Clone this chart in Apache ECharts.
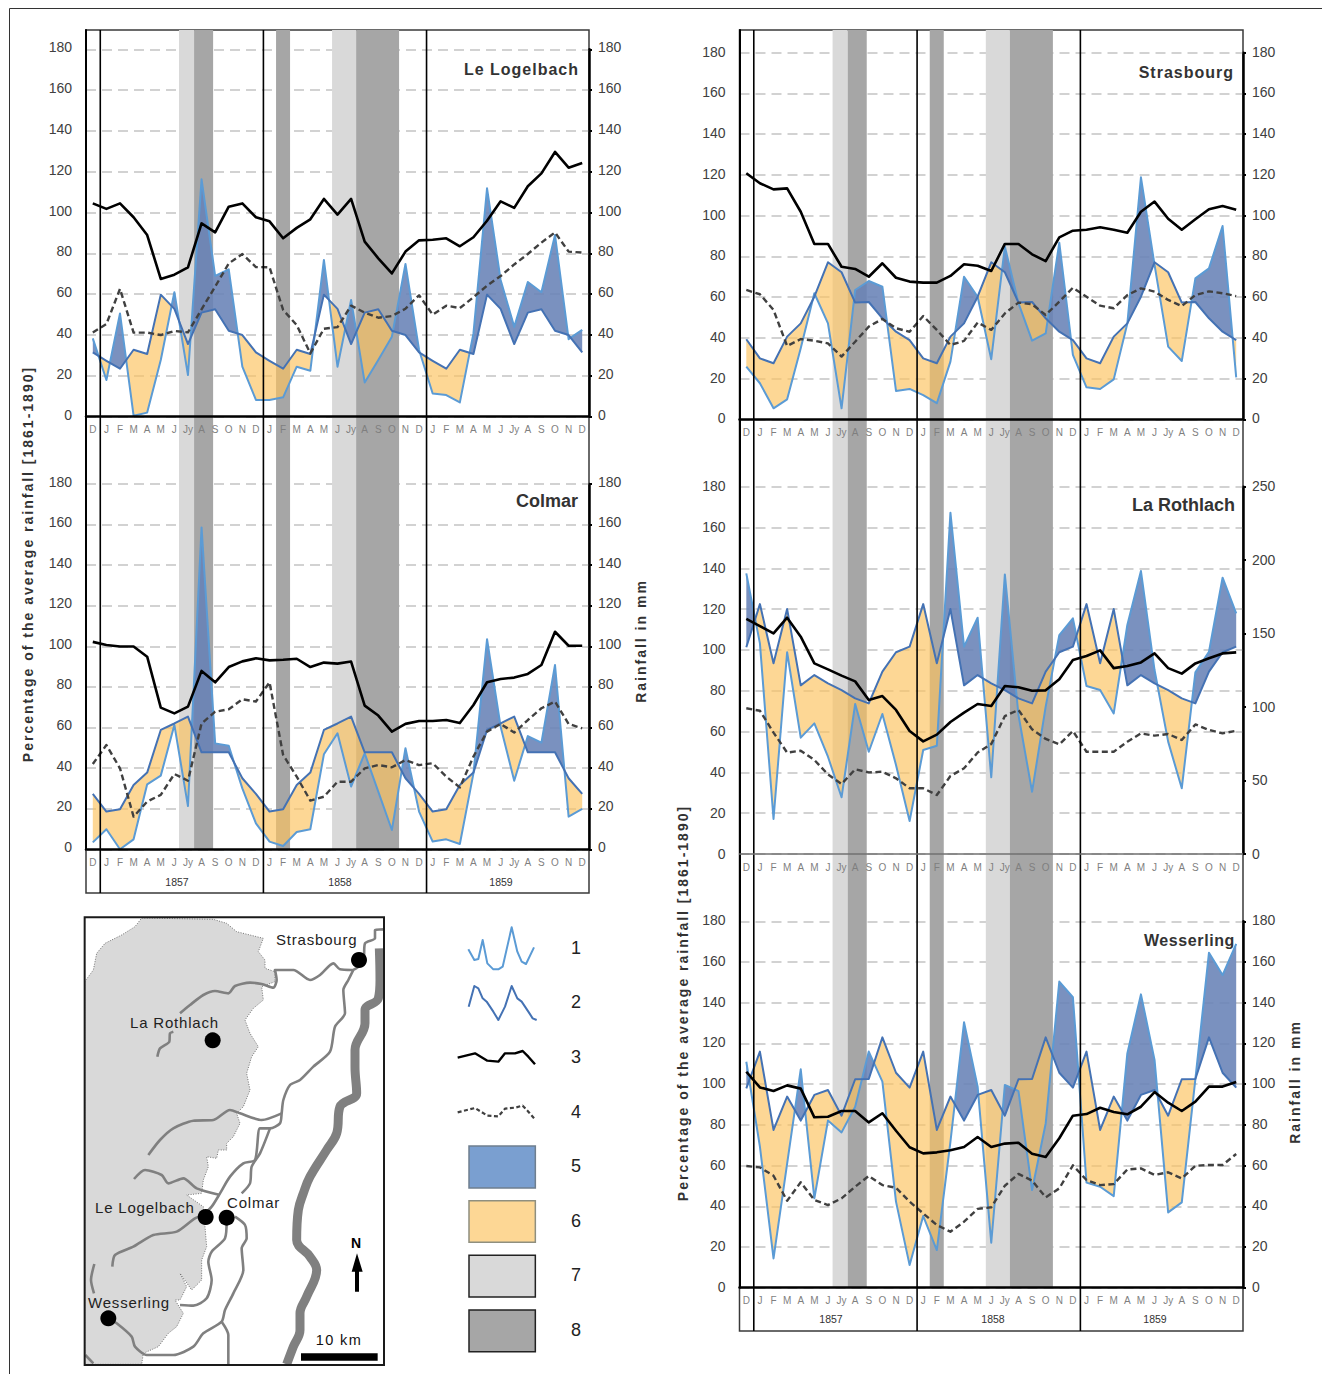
<!DOCTYPE html>
<html>
<head>
<meta charset="utf-8">
<style>html,body{margin:0;padding:0;background:#fff}#c{width:1322px;height:1374px}</style>
<script src="https://cdn.jsdelivr.net/npm/echarts@6/dist/echarts.min.js"></script>
</head>
<body>
<div id="c"></div>
<script>
const months = ['D','J','F','M','A','M','J','Jy','A','S','O','N','D','J','F','M','A','M','J','Jy','A','S','O','N','D','J','F','M','A','M','J','Jy','A','S','O','N','D'];
const years = ['1857','1858','1859'];

const logelbachMonthly = [38.4,18,50.6,0.5,2,27.8,61,20.4,116.3,69,72.2,24.5,8.2,8.2,9.5,24.5,22.5,76.8,24.5,57.2,16.8,27.8,39.2,74.8,32.7,11.4,10.6,7,40.8,111.9,67,44,66,61,89,38,42.5];
const logelbachMean = [31.5,27.4,23.5,32.8,30.7,59.8,52.8,35.6,51,52.6,42.1,40,31.5,27.4,23.5,32.8,30.7,59.8,52.8,35.6,51,52.6,42.1,40,31.5,27.4,23.5,32.8,30.7,59.8,52.8,35.6,51,52.6,42.1,40,31.5];
const logelbachPct = [104.5,101.8,104.5,97.7,89,67.5,69.6,73.2,94.7,90.3,102.9,104.5,97.7,95.7,87.4,92.5,96.7,106.7,99,106.7,85.8,77.6,70.2,80.9,86.4,86.7,87.4,83.5,87.9,96,105.5,102.3,112.9,119.2,129.7,122,124.3];
const logelbachRun = [41.3,45.4,62.6,41.2,41.2,40,42,41.3,52.6,63.7,75.1,79.7,73.3,73.2,52.3,44.9,31,43.1,43.9,54.4,51,48.5,49.3,52.9,59.5,50,54.4,53.2,58.5,64.2,68.9,74.6,79.7,85.3,90.3,80.9,80.4];

const colmarMonthly = [3.4,9.9,0,4.9,32,36.3,61.3,21.3,158.6,52.2,51,30,12.8,3.8,1.6,8.5,9.9,46.8,57.2,30.9,47.3,28.4,9.5,49.8,18.6,3.8,4.9,2.6,37.4,103.5,60.4,33.8,55.8,52.6,90.8,16.1,19.9];
const colmarMean = [27.3,18.6,19.7,31.7,37.8,58.8,62,65.4,47.8,47.8,47.8,35,27.3,18.6,19.7,31.7,37.8,58.8,62,65.4,47.8,47.8,47.8,35,27.3,18.6,19.7,31.7,37.8,58.8,62,65.4,47.8,47.8,47.8,35,27.3];
const colmarPct = [102.2,100.7,99.9,99.9,94.9,69.8,67,70.3,87.9,82.3,89.8,92.6,94.1,93.1,93.4,93.9,89.8,92,91.5,92.5,70.8,65.9,58,61.8,63.2,63.2,63.7,62.2,71.1,82.3,83.9,84.6,86.4,90.8,107.2,100.3,100.3];
const colmarRun = [42,51.4,39.9,16.1,23.5,26.8,37.1,33.8,62,67.8,69,73.9,72.8,82.3,46.5,35.8,24,25.9,33.3,33.3,39.9,41.5,40.4,44,41.5,42.4,35.8,30.5,45.7,58,61.8,57.5,63.7,69.5,72.8,61.8,59.6];

const strasbourgMonthly = [25.9,17.7,5.4,9.8,34.9,61.9,47.1,5.4,63.5,67.9,65.1,13.9,14.9,11.9,7.9,28.3,70,60.2,29.5,84.8,57,38.6,42.2,86.7,31.6,15.7,14.9,19.6,47,118.8,75.8,35.7,28.6,69.2,74.1,94.9,20.6];
const strasbourgMean = [39.3,29.9,27.5,40.6,47.1,60.2,77.1,72.2,57.3,57.6,49.6,43,38.9,29.9,27.5,40.6,47.1,60.2,77.1,72.2,57.3,57.6,49.6,43,38.9,29.9,27.5,40.6,47.1,60.2,77.1,72.2,57.3,57.6,49.6,43,38.9];
const strasbourgPct = [120.8,115.9,112.9,113.4,101.9,86.1,86.1,74.9,73.8,70,76.6,69.5,67.6,67.1,67.1,70.4,76.1,75.4,72.8,86.1,86.1,81,77.7,89.3,92.6,93.1,94.3,93.1,91.6,101.9,106.9,98.5,93.1,98.2,103.1,104.7,102.9];
const strasbourgRun = [63.5,61.4,53.7,36,39.4,38.6,37.3,30.8,38.1,45.5,49.3,44.7,43,50.7,43.9,36.5,38.5,47.5,43.9,52,57.3,56.5,51.2,57.8,64.6,60.2,55.8,54.5,61,64.3,62.7,58.6,55.6,61,62.8,61.9,60.5];

const rothlachMonthly = [191,143.4,23.8,137.3,79.2,88.9,66.2,38.6,102.1,69.6,95.3,60.6,22.5,70.8,73.7,232.3,141.1,160.8,52.2,190.3,94.6,42.4,100.3,149,160.4,114.3,111.6,95.7,155.9,192.6,125.2,76.5,44.7,123.6,137.7,188.1,163.8];
const rothlachMean = [140.7,170.1,129.8,166.7,114.8,121.8,116.2,111.6,105.9,102.5,124.1,137.3,141.1,170.1,129.8,166.7,114.8,121.8,116.2,111.6,105.9,102.5,124.1,137.3,141.1,170.1,129.8,166.7,114.8,121.8,116.2,111.6,105.9,102.5,124.1,137.3,141.1];
const rothlachPct = [115.2,111.7,108.1,115.8,106.5,93.4,90.5,87.4,84.6,75.5,77.4,70.6,60.3,55.2,58.5,64.7,69.3,73.5,72.5,82.3,81.7,80,80.2,85.6,95.1,97,99.8,91.1,92.1,93.9,98.3,91.1,88.4,93.4,95.9,98.3,98.8];
const rothlachRun = [71.4,70.2,59.5,49.7,50.6,46.1,39,34.3,41.5,40,40.3,37.1,32.2,32.2,28.9,38.2,42,49.7,53.9,67.6,70.6,61.1,56.4,53.7,60.3,50.1,50.1,50.1,55,59.1,58,58.8,55.9,63.5,60.8,59.1,60.4];

const wesserlingMonthly = [111,69.3,14.4,61,107.3,43.9,82.1,76.3,88.9,116,101.2,42.3,11.1,35.2,18.5,71.7,130.4,98.8,22.1,99.6,96.6,48,80.7,150.4,142.7,51.6,49.6,45,115.1,144.1,111.9,37,41.9,102.5,164.6,153.6,168.9];
const wesserlingMean = [97.9,116,77.5,93.9,82.1,94.7,97.1,84.5,102.4,102.5,123,105.6,98.3,116,77.5,93.9,82.1,94.7,97.1,84.5,102.4,102.5,123,105.6,98.3,116,77.5,93.9,82.1,94.7,97.1,84.5,102.4,102.5,123,105.6,98.3];
const wesserlingPct = [106.1,98.4,96.6,99.4,97.8,83.7,84,86.8,86.8,81.2,85.7,77.1,69,66,66.5,67.5,69.1,74,69.1,70.8,71.2,65.8,64.2,73.4,84.5,85.3,88.4,86.3,85.2,88.9,96.1,90.9,86.8,91.4,98.8,98.8,101.1];
const wesserlingRun = [59.8,59.1,55,42.7,51.8,43.1,40.6,43.9,49.6,54.9,50.4,49.1,42.3,36.5,30.8,27.5,32.4,38.7,39.5,50.1,55.9,52.6,44.4,48.8,60.1,52.9,50.4,50.9,58.1,58.6,55.4,56.7,53.7,59.9,60.3,60.3,65.7];

const lightBands = [[6.34,7.45],[17.6,19.37]];
const darkBands = [[7.45,8.85],[13.48,14.51],[19.37,22.53]];
const yearBreaks = [0.55,12.55,24.55];

/* ---- map, in units of the map canvas ---- */
const vosges = [[14,215],[40,180],[50,130],[75,100],[125,75],[165,50],[185,24],[400,28],[440,40],[470,65],[550,85],[535,125],[555,150],[555,175],[585,185],[585,215],[545,230],[550,270],[520,295],[495,330],[510,370],[535,410],[515,440],[500,490],[510,540],[490,590],[470,610],[480,640],[460,680],[440,700],[440,720],[415,720],[410,745],[380,740],[385,770],[370,810],[365,850],[320,855],[370,890],[375,950],[380,1010],[365,1050],[365,1110],[335,1140],[300,1090],[320,1130],[300,1170],[285,1170],[310,1210],[290,1250],[265,1270],[235,1310],[190,1330],[185,1363],[14,1363]];
const rivers = [
 [[300,310],[330,285],[370,255],[405,243],[445,250],[465,228],[510,218],[545,222],[580,233],[590,210],[585,180],[640,180],[690,210],[720,195],[760,160],[780,178],[815,180],[850,155],[855,100],[885,85],[885,60],[910,58]],
 [[820,180],[805,210],[790,240],[795,310],[765,350],[750,425],[700,470],[660,510],[630,525],[610,570],[605,610],[600,640],[570,655],[540,655],[525,750],[490,760],[450,800],[420,850],[395,890],[365,920]],
 [[570,655],[540,730],[515,770],[510,820],[485,850]],
 [[605,610],[545,630],[480,610],[450,600],[400,630],[340,632],[280,655],[240,690],[205,735]],
 [[162,807],[195,780],[245,795],[265,820],[310,805],[350,835],[420,855]],
 [[97,1070],[105,1035],[160,1010],[220,975],[290,965],[345,925],[375,915]],
 [[440,930],[435,985],[395,1025],[385,1055],[395,1110],[380,1165],[340,1187],[300,1185]],
 [[465,920],[495,945],[500,985],[485,1015],[490,1080],[460,1150],[435,1200],[425,1235],[370,1270],[340,1310],[280,1335],[200,1335],[165,1310],[155,1280],[110,1240],[85,1225]],
 [[425,1235],[445,1275],[445,1363]],
 [[43,1062],[33,1110],[42,1150]],
 [[16,1335],[40,1360]],
 [[232,440],[240,415],[268,395],[270,370],[280,365]]
];
const rhine = [[620,1363],[640,1310],[660,1260],[660,1210],[680,1160],[710,1080],[690,1040],[650,990],[655,900],[670,850],[690,800],[740,720],[770,670],[780,590],[830,550],[825,470],[825,420],[855,340],[855,300],[895,265],[900,210],[898,115]];
const towns = [[837,150],[398,391],[377,921],[440,923],[85,1225]];
const northArrow = [[825,1145],[837,1145],[837,1085],[848,1085],[831,1030],[815,1085],[825,1085]];
const scaleBar = [[663,1330],[893,1330],[893,1352],[663,1352]];
const mapFrame = [[14,22],[912,22],[912,1365],[14,1365]];
const key1 = [[1165,118],[1183,150],[1195,147],[1208,90],[1222,160],[1240,178],[1255,178],[1268,170],[1295,52],[1312,125],[1325,155],[1338,162],[1362,112]];
const key2 = [[1166,290],[1183,228],[1195,235],[1208,265],[1220,275],[1240,305],[1255,330],[1275,290],[1295,228],[1312,265],[1325,275],[1345,305],[1358,325],[1370,330]];
const key3 = [[1133,443],[1185,430],[1222,452],[1255,455],[1275,430],[1305,430],[1328,423],[1345,440],[1365,463]];
const key4 = [[1133,607],[1185,594],[1222,617],[1255,619],[1275,596],[1305,593],[1328,587],[1345,605],[1365,628]];
const keyBoxes = [
 {pts:[[1167,708],[1366,708],[1366,834],[1167,834]],fill:'#7A9FD0',stroke:'#6f7f8f'},
 {pts:[[1167,872],[1366,872],[1366,997],[1167,997]],fill:'#FDD795',stroke:'#8f8f7f'},
 {pts:[[1167,1036],[1366,1036],[1366,1161],[1167,1161]],fill:'#D9D9D9',stroke:'#222'},
 {pts:[[1167,1200],[1366,1200],[1366,1325],[1167,1325]],fill:'#A6A6A6',stroke:'#222'}
];

const FONT = '"Liberation Sans", Arial, sans-serif';
const C = {light:'#5B9BD5', mean:'#4472B4', pct:'#000', run:'#404040', above:'rgba(104,130,182,0.88)', below:'rgba(252,194,94,0.66)', grid:'#C4C4C4', tick:'#404040', month:'#7F7F7F'};

const panels = [
 {name:'Le Logelbach',col:0,top:49.3,bottom:416.7,monthly:logelbachMonthly,mean:logelbachMean,pct:logelbachPct,run:logelbachRun,axis:'#000',axisW:2.5,titleX:579,titleY:69,titleSize:16,labelLift:2},
 {name:'Colmar',col:0,top:484,bottom:849.3,monthly:colmarMonthly,mean:colmarMean,pct:colmarPct,run:colmarRun,axis:'#000',axisW:2.5,titleX:578,titleY:501,titleSize:18,labelLift:2.5},
 {name:'Strasbourg',col:1,top:52.7,bottom:419.3,monthly:strasbourgMonthly,mean:strasbourgMean,pct:strasbourgPct,run:strasbourgRun,axis:'#000',axisW:2.5,titleX:1234,titleY:72,titleSize:16,labelLift:1},
 {name:'La Rothlach',col:1,top:486.7,bottom:854,monthly:rothlachMonthly,mean:rothlachMean,pct:rothlachPct,run:rothlachRun,axis:'#707070',axisW:1.5,titleX:1235,titleY:505,titleSize:18,labelLift:0.5,rightMax:250,rightStep:50,rainOnRight:true},
 {name:'Wesserling',col:1,top:921.3,bottom:1287.7,monthly:wesserlingMonthly,mean:wesserlingMean,pct:wesserlingPct,run:wesserlingRun,axis:'#000',axisW:2.5,titleX:1235,titleY:940,titleSize:16,labelLift:1}
];
const cols = [{left:86,width:503,frameBottom:893,axisBottom:849.3,yearY:882,yearX:[177,340,501]},
              {left:739.5,width:503.5,frameBottom:1331,axisBottom:1287.7,yearY:1319,yearX:[831,993,1155]}];

/* px of extra letter spacing for the texts that the picture tracks out */
const tracking = {'Le Logelbach':1,'Strasbourg':1,'Wesserling':0.6,'Rainfall in mm':2,'Percentage of the average rainfall [1861-1890]':2};

function buildRuns(obs, mean){
  const runs=[]; let cur=null;
  for(let i=0;i<obs.length;i++){
    const s=obs[i]>=mean[i];
    if(!cur) cur={above:s,o:[],m:[]};
    cur.o.push([i,obs[i]]); cur.m.push([i,mean[i]]);
    if(i<obs.length-1){
      const s2=obs[i+1]>=mean[i+1];
      if(s2!==s){
        const d1=obs[i]-mean[i], d2=obs[i+1]-mean[i+1], t=d1/(d1-d2);
        const p=[i+t,obs[i]+t*(obs[i+1]-obs[i])];
        cur.o.push(p); cur.m.push(p); runs.push(cur);
        cur={above:s2,o:[p],m:[p]};
      }
    }
  }
  runs.push(cur);
  return runs.map(r=>({above:r.above,pts:r.o.concat(r.m.slice().reverse())}));
}
const idx=a=>a.map((v,i)=>[i,v]);

const grid=[],xAxis=[],yAxis=[],series=[],graphic=[];
const hiddenX={type:'value',min:-0.5,max:36.5,show:false};
const hiddenY={type:'value',min:0,max:1,show:false};

cols.forEach(c=>{
  const gf=grid.length;
  grid.push({left:c.left,top:30,width:c.width,height:c.frameBottom-30,show:true,backgroundColor:'transparent',borderColor:'#3a3a3a',borderWidth:1.5,z:0});
  xAxis.push(Object.assign({gridIndex:gf},hiddenX)); const xf=xAxis.length-1;
  yAxis.push(Object.assign({gridIndex:gf},hiddenY)); const yf=yAxis.length-1;
  yearBreaks.forEach(b=>series.push({type:'line',xAxisIndex:xf,yAxisIndex:yf,data:[[b,0],[b,1]],showSymbol:false,silent:true,z:5,lineStyle:{color:'#000',width:1.6},animation:false}));
  const gb=grid.length;
  grid.push({left:c.left,top:30,width:c.width,height:c.axisBottom-30});
  xAxis.push(Object.assign({gridIndex:gb},hiddenX)); const xb=xAxis.length-1;
  yAxis.push({gridIndex:gb,type:'value',min:0,max:1,position:'left',z:6,axisLine:{show:true,onZero:false,lineStyle:{color:'#000',width:2}},axisTick:{show:false},axisLabel:{show:false},splitLine:{show:false}});
  const yb=yAxis.length-1;
  [[lightBands,'#D9D9D9'],[darkBands,'#A6A6A6']].forEach(([bands,color])=>{
    series.push({type:'custom',xAxisIndex:xb,yAxisIndex:yb,silent:true,z:1,data:bands.map(b=>[b[0],b[1]]),
      encode:{x:[0,1]},
      renderItem:(p,api)=>{const a=api.coord([api.value(0),1]),b=api.coord([api.value(1),0]);
        return {type:'rect',shape:{x:a[0],y:a[1],width:b[0]-a[0],height:b[1]-a[1]},style:{fill:color}};}});
  });
  years.forEach((y,i)=>graphic.push({type:'text',x:c.yearX[i],y:c.yearY,z:50,style:{text:y,fill:'#333',font:'10.5px '+FONT,align:'center',verticalAlign:'middle'}}));
});

panels.forEach(p=>{
  const c=cols[p.col], g=grid.length;
  grid.push({left:c.left,top:p.top,width:c.width,height:p.bottom-p.top});
  xAxis.push(Object.assign({gridIndex:g},hiddenX)); const xv=xAxis.length-1;
  xAxis.push({gridIndex:g,type:'category',data:months,position:'bottom',z:6,
    axisLine:{show:true,onZero:false,lineStyle:{color:p.axis,width:p.axisW}},axisTick:{show:false},
    axisLabel:{interval:0,margin:8,fontSize:10,fontFamily:FONT,color:C.month},splitLine:{show:false}});
  const yLabel=(margin)=>({margin,fontSize:14,fontFamily:FONT,color:C.tick,verticalAlign:'bottom',lineHeight:2*p.labelLift});
  yAxis.push({gridIndex:g,type:'value',position:'left',min:0,max:180,interval:20,z:0,
    axisLine:{show:false},axisTick:{show:false},
    axisLabel:yLabel(14),
    splitLine:{show:true,lineStyle:{color:C.grid,type:[10,6],width:1.5}}});
  const yl=yAxis.length-1;
  const rMax=p.rightMax||180, rStep=p.rightStep||20;
  yAxis.push({gridIndex:g,type:'value',position:'right',min:0,max:rMax,interval:rStep,z:6,
    axisLine:{show:true,onZero:false,lineStyle:{color:'#000',width:2.5}},
    axisTick:{show:true,length:3,lineStyle:{color:'#000',width:2}},
    axisLabel:yLabel(9),splitLine:{show:false}});
  const yr=yAxis.length-1;
  const yRain=p.rainOnRight?yr:yl;
  const runs=buildRuns(p.monthly,p.mean);
  series.push({type:'custom',name:p.name+' difference',xAxisIndex:xv,yAxisIndex:yRain,silent:true,z:3,
    data:runs.map(r=>r.pts[0]),
    renderItem:(params,api)=>{const r=runs[params.dataIndex];
      return {type:'polygon',shape:{points:r.pts.map(q=>api.coord(q))},style:{fill:r.above?C.above:C.below}};}});
  const line=(name,data,yi,color,width,z,type)=>series.push({type:'line',name,xAxisIndex:xv,yAxisIndex:yi,data:idx(data),showSymbol:false,silent:true,z,
    lineStyle:{color,width,type:type||'solid',join:'round',cap:'butt'}});
  line(p.name+' monthly',p.monthly,yRain,C.light,2,4);
  line(p.name+' mean',p.mean,yRain,C.mean,2,4);
  line(p.name+' pct',p.run,yl,C.run,2.4,4,[6,3.5]);
  line(p.name+' 12m',p.pct,yl,C.pct,2.6,4);
  graphic.push({type:'text',x:p.titleX,y:p.titleY,z:50,style:{text:p.name,fill:'#333',font:'bold '+p.titleSize+'px '+FONT,align:'right',verticalAlign:'middle'}});
});

[['Percentage of the average rainfall [1861-1890]',28,564,'bold 14px '],['Rainfall in mm',641,641,'bold 14px '],
 ['Percentage of the average rainfall [1861-1890]',683,1003,'bold 14px '],['Rainfall in mm',1295,1082,'bold 14px ']].forEach(t=>
  graphic.push({type:'text',x:t[1],y:t[2],rotation:Math.PI/2,z:50,style:{text:t[0],fill:'#333',font:t[3]+FONT,align:'center',verticalAlign:'middle'}}));

const gm=grid.length;
grid.push({left:80,top:910,width:520,height:460});
xAxis.push({gridIndex:gm,type:'value',min:0,max:1560,show:false}); const xm=xAxis.length-1;
yAxis.push({gridIndex:gm,type:'value',min:0,max:1380,inverse:true,show:false}); const ym=yAxis.length-1;
const poly=(pts,style,z)=>series.push({type:'custom',xAxisIndex:xm,yAxisIndex:ym,silent:true,z:z,data:[pts[0]],
  renderItem:(p,api)=>({type:'polygon',shape:{points:pts.map(q=>api.coord(q))},style:style})});
const mline=(pts,color,width,type,z,smooth)=>series.push({type:'line',xAxisIndex:xm,yAxisIndex:ym,data:pts,showSymbol:false,silent:true,z:z||3,smooth:smooth||false,lineStyle:{color,width,type:type||'solid',join:'round'}});
poly(vosges,{fill:'#D9D9D9',stroke:'#555',lineWidth:0.8,lineDash:[1,1.5]},2);
rivers.forEach(r=>mline(r,'#808080',2.6,'solid',3,0.25));
mline(rhine,'#808080',9,'solid',3,0.4);
series.push({type:'scatter',xAxisIndex:xm,yAxisIndex:ym,data:towns,symbolSize:16,silent:true,z:4,itemStyle:{color:'#000',opacity:1}});
poly(northArrow,{fill:'#000'},4);
poly(scaleBar,{fill:'#000'},4);
poly(mapFrame,{fill:'none',stroke:'#1a1a1a',lineWidth:2},5);
mline(key1,C.light,2); mline(key2,C.mean,2); mline(key3,'#000',2.4); mline(key4,C.run,2.2,[4,2.5]);
keyBoxes.forEach(b=>poly(b.pts,{fill:b.fill,stroke:b.stroke,lineWidth:1.5},3));

[['Strasbourg',276,939],['La Rothlach',130,1022],['Le Logelbach',95,1207],['Colmar',227,1202],['Wesserling',88,1302]].forEach(t=>
  graphic.push({type:'text',x:t[1],y:t[2],z:50,style:{text:t[0],fill:'#222',font:'15px '+FONT,align:'left',verticalAlign:'middle'}}));
graphic.push({type:'text',x:356,y:1243,z:50,style:{text:'N',fill:'#000',font:'bold 14px '+FONT,align:'center',verticalAlign:'middle'}});
graphic.push({type:'text',x:339,y:1340,z:50,style:{text:'10 km',fill:'#111',font:'14.5px '+FONT,align:'center',verticalAlign:'middle'}});
['1','2','3','4','5','6','7','8'].forEach((n,i)=>graphic.push({type:'text',x:576,y:[948,1002,1057,1112,1166,1221,1275,1330][i],z:50,style:{text:n,fill:'#222',font:'18px '+FONT,align:'center',verticalAlign:'middle'}}));

graphic.push({type:'line',z:50,shape:{x1:9.5,y1:8.5,x2:1322,y2:8.5},style:{stroke:'#333',lineWidth:1}});
graphic.push({type:'line',z:50,shape:{x1:9.5,y1:8.5,x2:9.5,y2:1374},style:{stroke:'#333',lineWidth:1}});

const chart=echarts.init(document.getElementById('c'),null,{renderer:'svg'});
chart.setOption({animation:false,backgroundColor:'#fff',tooltip:{show:false},grid,xAxis,yAxis,series,graphic});

function applyTracking(){
  document.querySelectorAll('#c svg text').forEach(t=>{
    const s=t.textContent, f=t.style.font||t.getAttribute('style')||'';
    const isBold=/bold|700/.test(f);
    if(s==='10 km'){t.style.letterSpacing='1.4px';return;}
    if(isBold && tracking[s]!==undefined){t.style.letterSpacing=tracking[s]+'px';return;}
    if(!isBold && ['Strasbourg','La Rothlach','Le Logelbach','Colmar','Wesserling'].includes(s)){t.style.letterSpacing='0.8px';}
  });
}
applyTracking();
chart.on('finished',applyTracking);
</script>
</body>
</html>
